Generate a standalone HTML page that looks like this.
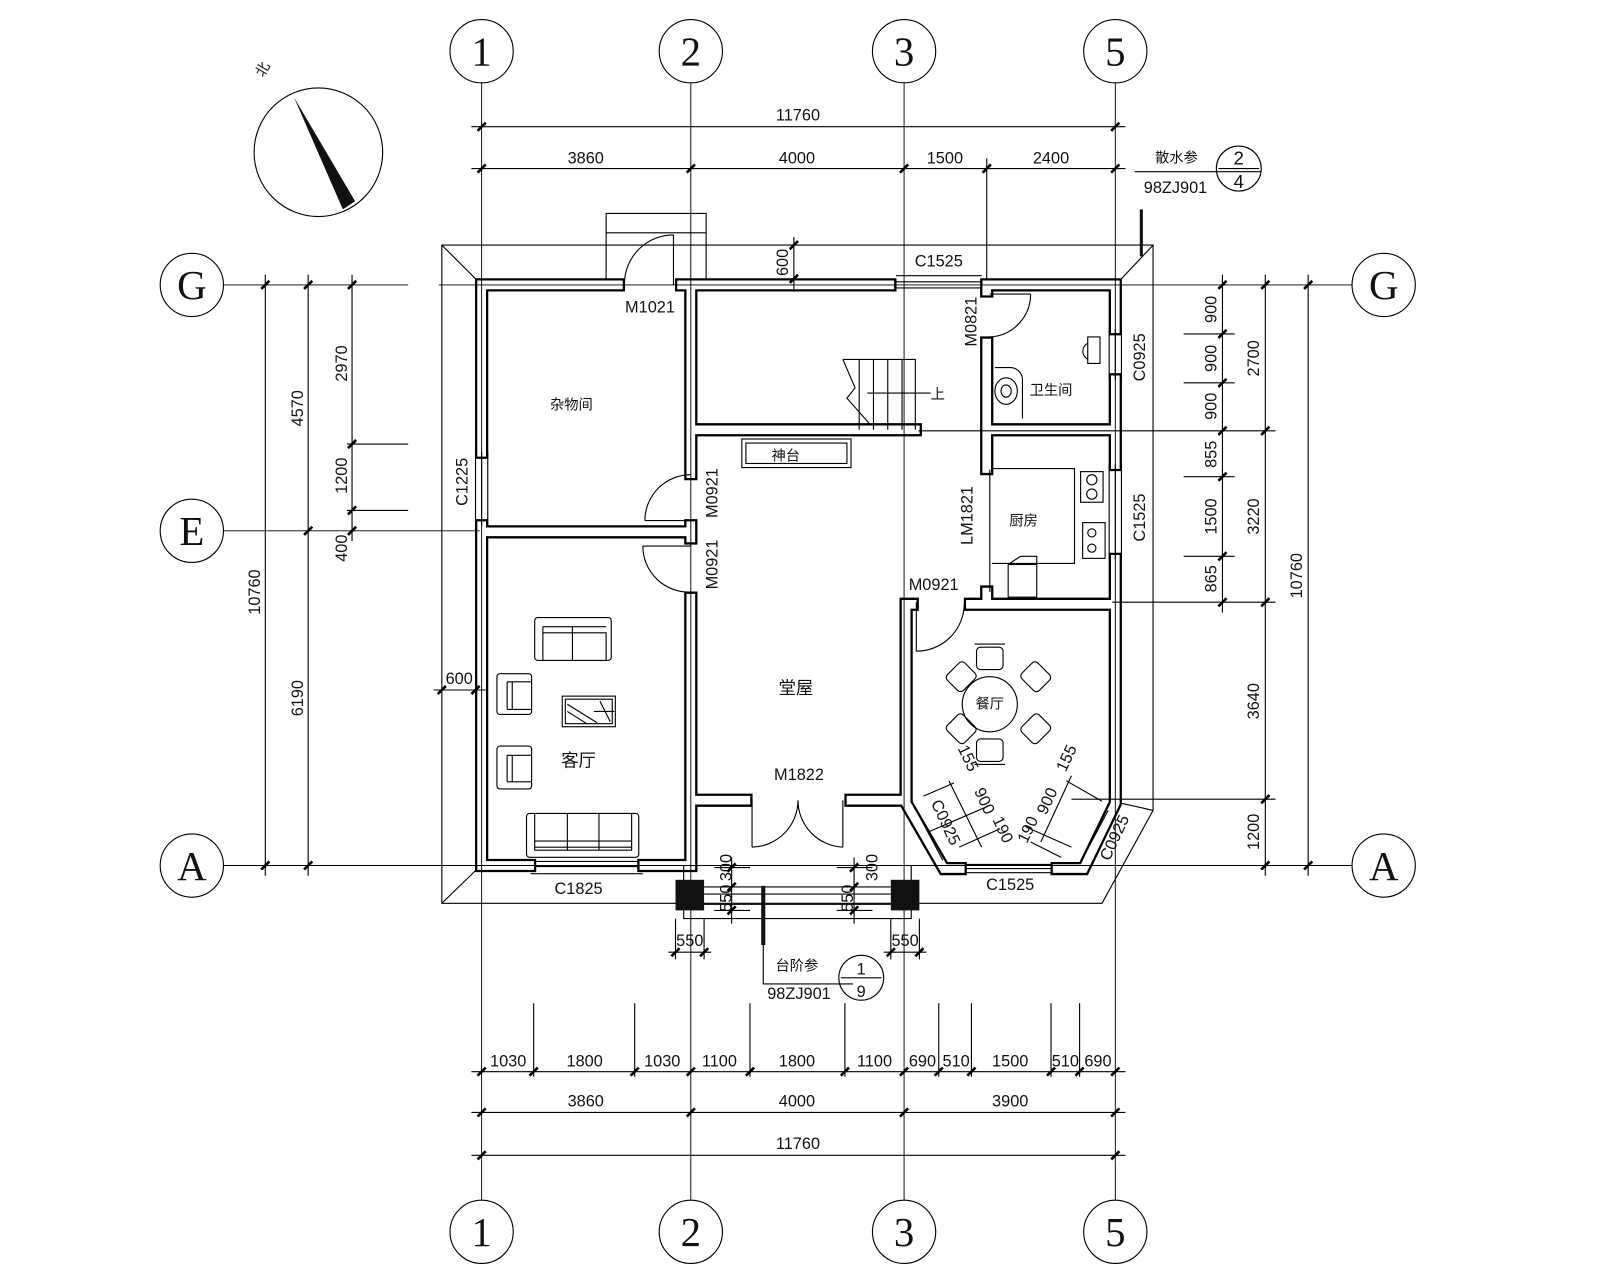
<!DOCTYPE html>
<html><head><meta charset="utf-8"><style>
html,body{margin:0;padding:0;background:#fff;}
svg{display:block;}
text{font-family:"Liberation Sans","Noto Sans CJK SC",sans-serif;fill:#111;}
.n{font-size:16px;}
.c{font-size:14px;}
.g{font-family:"Liberation Serif",serif;font-size:40px;}
</style></head><body>
<svg id="s" width="1600" height="1280" viewBox="0 0 1568 1254" xmlns="http://www.w3.org/2000/svg">
<defs>
<path id="w" d="M472 279H606M668 279H872M968 279H1093V322M1093 372V455M1093 548V787L1062 851H1036M941 851H925L888 787V592H894M951 592H1093M472 279V443M472 515V848H519M631 848H677M677 279V464M677 515V527M677 586V848M472 521H677M677 421H897M967 279V285M967 336V459M967 580V592M967 421H1093M677 784H731M834 784H888"/>
</defs>
<!-- walls -->
<g fill="none" stroke-linecap="square" stroke-linejoin="miter">
<use href="#w" stroke="#000" stroke-width="13"/>
<use href="#w" stroke="#fff" stroke-width="8.5"/>
</g>
<g id="thin" stroke="#000" stroke-width="1.1" fill="none">
<circle cx="472" cy="50" r="31"/><circle cx="677" cy="50" r="31"/><circle cx="886" cy="50" r="31"/><circle cx="1093" cy="50" r="31"/>
<circle cx="472" cy="1207" r="31"/><circle cx="677" cy="1207" r="31"/><circle cx="886" cy="1207" r="31"/><circle cx="1093" cy="1207" r="31"/>
<circle cx="188" cy="279" r="31"/><circle cx="188" cy="520" r="31"/><circle cx="188" cy="848" r="31"/>
<circle cx="1356" cy="279" r="31"/><circle cx="1356" cy="848" r="31"/>
<path d="M472 81V983M677 81V983M886 81V983M1093 81V983M472 983V1176M677 983V1176M886 983V1176M1093 983V1176" stroke-width="0.9"/>
<path d="M219 279H400M430 279H1325M219 520H470M219 848H1325" stroke-width="0.9"/>
<circle cx="312" cy="149" r="63"/>
<path d="M433 240H1130V794L1080 885H433Z"/>
<path d="M433 240L466 273M1130 240L1099 273M433 885L466 853M1130 794L1099 787"/>
<path d="M594 273V209H692V273M594 228H692"/>
<path d="M462 124H1103M462 165H1103M967 155V273"/>
<path d="M462 1050H1103M462 1090H1103M462 1132H1103"/>
<path d="M523 983V1055M622 983V1055M735 983V1055M828 983V1055M920 983V1055M952 983V1055M1030 983V1055M1058 983V1055"/>
<path d="M260 269V858M302 269V858M345 269V530M340 435H400M340 500H400"/>
<path d="M1198 269V600M1240 269V858M1282 269V858"/>
<path d="M1160 327H1210M1160 375H1210M1160 467H1210M1160 545H1210M900 422H1250M1090 590H1250M1050 783H1250"/>
<path d="M778 232V283M425 676H476"/>
<path d="M1112 168H1236"/><circle cx="1214" cy="165" r="22"/><path d="M1194 165H1234"/>
<path d="M670 848V900H893V848M690 869H873M690 876H873M690 886H873M717 840V905M837 840V905M700 850H735M700 869H735M700 892H735M820 850H855M820 869H855M820 892H855"/>
<path d="M655 933H697M866 933H908M662 900V940M690 900V940M873 900V940M901 900V940"/>
<path d="M748 900V964H836"/><circle cx="844" cy="958" r="22"/><path d="M824 958H864"/>
<path d="M826 352H897V421M842 352V421M856 352V421M870 352V421M884 352V421M826 352L838 380L830 390L852 415M850 385H912"/>
<rect x="727" y="430" width="107" height="28"/><rect x="731" y="434" width="99" height="20"/>
<path d="M660 279V230M660 230A48 48 0 0 0 612 279"/>
<path d="M970 288H1010M1010 288A42 42 0 0 1 970 330"/>
<path d="M677 510H632M632 510A45 45 0 0 1 677 465"/>
<path d="M630 535H677M630 535A45 45 0 0 0 677 580"/>
<path d="M898 590V638M898 638A47 47 0 0 0 945 592"/>
<path d="M737 784V830M737 830A46 46 0 0 0 782 784M826 784V830M826 830A46 46 0 0 1 782 784"/>
<path d="M970 460V580"/>
<path d="M466 443V515M472 443V515M478 443V515"/>
<path d="M878 270H962M878 276H962M878 282H962M878 273V285M962 273V285"/>
<path d="M1087 322V372M1093 322V372M1099 322V372"/>
<path d="M1087 455V548M1093 455V548M1099 455V548"/>
<path d="M525 844H625M525 849H625M520 856H630"/>
<path d="M947 847H1030M947 851H1030M947 855H1030"/>
<path d="M898 794L924 843M1060 843L1086 794"/>
<path d="M1066 330H1078V356H1066ZM1066 336A12 10 0 0 0 1066 352"/>
<path d="M975 360H990A12 12 0 0 1 1002 372V410"/>
<ellipse cx="986" cy="383" rx="11" ry="13"/><ellipse cx="986" cy="383" rx="5" ry="6"/>
<path d="M972 459H1053V552H972"/>
<rect x="1059" y="462" width="22" height="30"/><circle cx="1070" cy="470" r="5"/><circle cx="1070" cy="484" r="5"/>
<rect x="1061" y="512" width="22" height="35"/><circle cx="1070" cy="522" r="4"/><circle cx="1070" cy="537" r="4"/>
<rect x="988" y="553" width="28" height="32"/><path d="M988 553L1000 545H1016V553"/>
<rect x="524" y="605" width="75" height="42" rx="3"/><path d="M532 614H594M532 620H594V647M532 614V647M561 614V647"/>
<rect x="487" y="660" width="34" height="40" rx="3"/><path d="M497 668V695M502 668V695M497 668H521M497 695H521"/>
<rect x="487" y="731" width="34" height="42" rx="3"/><path d="M497 740V766M502 740V766M497 740H521M497 766H521"/>
<rect x="551" y="682" width="52" height="30"/><rect x="554" y="685" width="46" height="24"/><path d="M556 690L585 708M556 697L575 709M588 687L598 707M582 697L602 697"/>
<rect x="516" y="797" width="110" height="43" rx="3"/><path d="M524 797V833H619V797M524 824H619M524 830H619M556 797V833M587 797V833"/>
<circle cx="970" cy="690" r="27"/>
<rect x="957" y="634" width="26" height="22" rx="4"/><path d="M955 631H985"/>
<rect x="957" y="724" width="26" height="22" rx="4"/><path d="M955 749H985"/>
<rect x="930" y="652" width="24" height="22" rx="4" transform="rotate(-45 942 663)"/>
<rect x="1003" y="652" width="24" height="22" rx="4" transform="rotate(45 1015 663)"/>
<rect x="930" y="703" width="24" height="22" rx="4" transform="rotate(45 942 714)"/>
<rect x="1003" y="703" width="24" height="22" rx="4" transform="rotate(-45 1015 714)"/>
<path d="M930 765L962 830M905 780L935 767M910 815L968 790M940 830L980 812M1050 760L1020 825M1045 765L1080 785M1005 810L1050 830M1010 825L1040 840"/>
</g>
<g fill="#111">
<polygon points="288,95 348,197 336,205"/>
<rect x="662" y="862" width="28" height="30"/><rect x="873" y="862" width="28" height="30"/>
<rect x="746" y="868" width="4" height="58"/>
<rect x="1117" y="205" width="3" height="46"/>
</g>
<g id="ticks" stroke="#000" stroke-width="2.6"></g>
<g text-anchor="middle">
<text class="g" x="472" y="64">1</text><text class="g" x="677" y="64">2</text><text class="g" x="886" y="64">3</text><text class="g" x="1093" y="64">5</text>
<text class="g" x="472" y="1221">1</text><text class="g" x="677" y="1221">2</text><text class="g" x="886" y="1221">3</text><text class="g" x="1093" y="1221">5</text>
<text class="g" x="188" y="293">G</text><text class="g" x="188" y="534">E</text><text class="g" x="188" y="862">A</text>
<text class="g" x="1356" y="293">G</text><text class="g" x="1356" y="862">A</text>
<text class="c" x="258" y="72" transform="rotate(-60 258 68)">北</text>
<text class="n" x="782" y="118">11760</text>
<text class="n" x="574" y="160">3860</text><text class="n" x="781" y="160">4000</text><text class="n" x="926" y="160">1500</text><text class="n" x="1030" y="160">2400</text>
<text class="n" x="498" y="1045">1030</text><text class="n" x="573" y="1045">1800</text><text class="n" x="649" y="1045">1030</text><text class="n" x="705" y="1045">1100</text><text class="n" x="781" y="1045">1800</text><text class="n" x="857" y="1045">1100</text><text class="n" x="904" y="1045">690</text><text class="n" x="937" y="1045">510</text><text class="n" x="990" y="1045">1500</text><text class="n" x="1044" y="1045">510</text><text class="n" x="1076" y="1045">690</text>
<text class="n" x="574" y="1084">3860</text><text class="n" x="781" y="1084">4000</text><text class="n" x="990" y="1084">3900</text>
<text class="n" x="782" y="1126">11760</text>
<text class="n" transform="translate(255 580) rotate(-90)">10760</text>
<text class="n" transform="translate(297 400) rotate(-90)">4570</text>
<text class="n" transform="translate(297 684) rotate(-90)">6190</text>
<text class="n" transform="translate(340 356) rotate(-90)">2970</text>
<text class="n" transform="translate(340 466) rotate(-90)">1200</text>
<text class="n" transform="translate(340 537) rotate(-90)">400</text>
<text class="n" transform="translate(1192 303) rotate(-90)">900</text>
<text class="n" transform="translate(1192 351) rotate(-90)">900</text>
<text class="n" transform="translate(1192 398) rotate(-90)">900</text>
<text class="n" transform="translate(1192 445) rotate(-90)">855</text>
<text class="n" transform="translate(1192 506) rotate(-90)">1500</text>
<text class="n" transform="translate(1192 567) rotate(-90)">865</text>
<text class="n" transform="translate(1234 351) rotate(-90)">2700</text>
<text class="n" transform="translate(1234 506) rotate(-90)">3220</text>
<text class="n" transform="translate(1234 687) rotate(-90)">3640</text>
<text class="n" transform="translate(1234 815) rotate(-90)">1200</text>
<text class="n" transform="translate(1276 564) rotate(-90)">10760</text>
<text class="n" transform="translate(772 257) rotate(-90)">600</text>
<text class="n" x="450" y="670">600</text>
<text class="n" x="637" y="306">M1021</text>
<text class="n" x="920" y="261">C1525</text>
<text class="n" transform="translate(957 315) rotate(-90)">M0821</text>
<text class="n" transform="translate(1122 350) rotate(-90)">C0925</text>
<text class="n" transform="translate(458 472) rotate(-90)">C1225</text>
<text class="n" transform="translate(703 483) rotate(-90)">M0921</text>
<text class="n" transform="translate(703 553) rotate(-90)">M0921</text>
<text class="n" transform="translate(953 505) rotate(-90)">LM1821</text>
<text class="n" transform="translate(1122 507) rotate(-90)">C1525</text>
<text class="n" x="915" y="578">M0921</text>
<text class="n" x="783" y="764">M1822</text>
<text class="n" x="567" y="876">C1825</text>
<text class="n" x="990" y="872">C1525</text>
<text class="n" transform="translate(922 808) rotate(65)">C0925</text>
<text class="n" transform="translate(1097 823) rotate(-65)">C0925</text>
<text class="n" transform="translate(944 745) rotate(65)">155</text>
<text class="n" transform="translate(960 787) rotate(65)">900</text>
<text class="n" transform="translate(978 815) rotate(65)">190</text>
<text class="n" transform="translate(1050 745) rotate(-65)">155</text>
<text class="n" transform="translate(1031 787) rotate(-65)">900</text>
<text class="n" transform="translate(1012 815) rotate(-65)">190</text>
<text class="n" transform="translate(717 850) rotate(-90)">300</text>
<text class="n" transform="translate(717 880) rotate(-90)">550</text>
<text class="n" transform="translate(860 850) rotate(-90)">300</text>
<text class="n" transform="translate(836 880) rotate(-90)">550</text>
<text class="n" x="676" y="927">550</text><text class="n" x="887" y="927">550</text>
<text class="n" x="783" y="979">98ZJ901</text>
<text class="c" x="781" y="951">台阶参</text>
<text class="n" x="844" y="955">1</text><text class="n" x="844" y="977">9</text>
<text class="c" x="1153" y="159">散水参</text>
<text class="n" x="1152" y="189">98ZJ901</text>
<text class="n" x="1214" y="161" style="font-size:18px">2</text><text class="n" x="1214" y="184" style="font-size:18px">4</text>
<text class="c" x="560" y="401">杂物间</text>
<text class="c" x="1030" y="387">卫生间</text>
<text class="c" x="770" y="451">神台</text>
<text class="c" x="1003" y="515">厨房</text>
<text class="c" x="919" y="391">上</text>
<text style="font-size:17px" x="780" y="680">堂屋</text>
<text class="c" x="970" y="694">餐厅</text>
<text style="font-size:17px" x="567" y="751">客厅</text>
</g>
<script>
var t=[],g=document.getElementById('ticks');
function h(y,xs){xs.forEach(function(x){t.push([x,y]);});}
function v(x,ys){ys.forEach(function(y){t.push([x,y]);});}
h(124,[472,1093]);h(165,[472,677,886,967,1093]);
h(1050,[472,523,622,677,735,828,886,920,952,1030,1058,1093]);
h(1090,[472,677,886,1093]);h(1132,[472,1093]);
v(260,[279,848]);v(302,[279,520,848]);v(345,[279,435,500,520]);
v(1198,[279,327,375,422,467,545,590]);v(1240,[279,422,590,783,848]);v(1282,[279,848]);
v(778,[240,273]);h(676,[433,466]);
v(717,[850,869,892]);v(837,[850,869,892]);h(933,[662,690,873,901]);
t.forEach(function(p){var l=document.createElementNS('http://www.w3.org/2000/svg','line');
l.setAttribute('x1',p[0]-4);l.setAttribute('y1',p[1]+4);l.setAttribute('x2',p[0]+4);l.setAttribute('y2',p[1]-4);g.appendChild(l);});
</script>
</svg>
</body></html>
